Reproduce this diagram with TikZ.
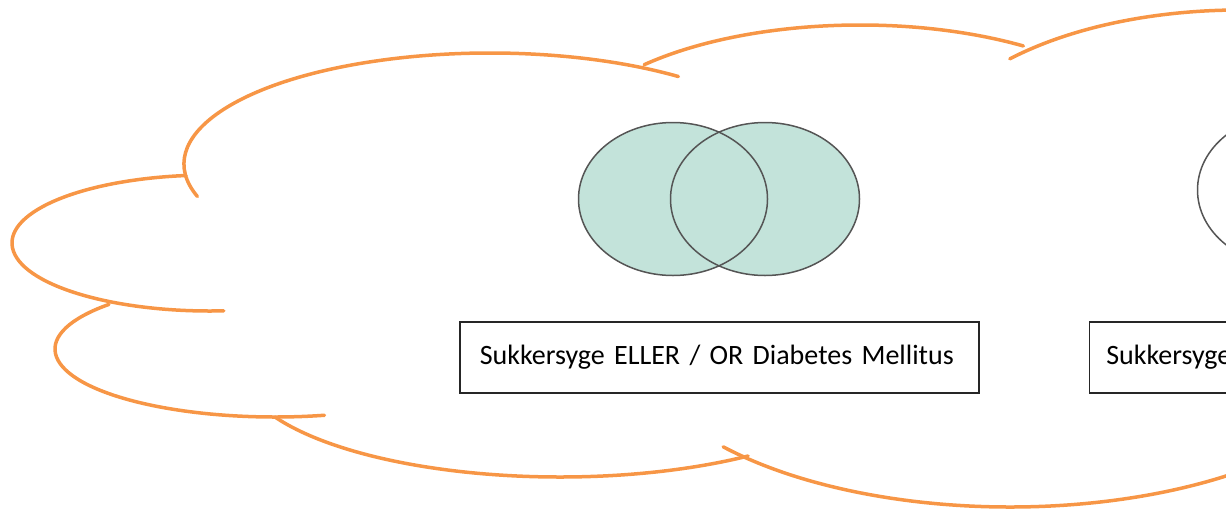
\documentclass[tikz,border=0pt]{standalone}
\usepackage{fontspec}
\setmainfont{Carlito}
\usetikzlibrary{positioning}
\definecolor{cloudorange}{HTML}{F79646}
\definecolor{venngreen}{HTML}{C3E3DA}
\definecolor{venngrey}{HTML}{555555}

\begin{document}
\begin{tikzpicture}[x=1pt,y=1pt]
\tikzset{cloudline/.style={draw=cloudorange, line width=3.5pt, line cap=round}}
\tikzset{venn/.style={draw=venngrey, line width=1.5pt}}
\tikzset{labelbox/.style={draw=black!85, line width=1.5pt, anchor=north west, inner sep=0pt,
  text width=519pt, align=left, text height=43pt, text depth=28pt, font=\fontsize{28}{34}\selectfont}}
\useasboundingbox (0,0) rectangle (1226,-509);
\clip (0,0) rectangle (1226,-509);
\draw [cloudline] ([shift={(97:198pt and 68pt)}]210,-243) arc (97:274:198pt and 68pt);
\draw [cloudline] ([shift={(197:306pt and 111pt)}]490,-164) arc (197:52:306pt and 111pt);
\draw [cloudline] ([shift={(136:300pt and 130pt)}]860,-155) arc (136:57:300pt and 130pt);
\draw [cloudline] ([shift={(136:320pt and 160pt)}]1240,-170) arc (136:60:320pt and 160pt);
\draw [cloudline] ([shift={(139:220pt and 68pt)}]275,-349) arc (139:283:220pt and 68pt);
\draw [cloudline] ([shift={(207:320pt and 110pt)}]560,-367) arc (207:306:320pt and 110pt);
\draw [cloudline] ([shift={(221:380pt and 175pt)}]1010,-332) arc (221:330:380pt and 175pt);
\fill [venngreen] (673,-199) ellipse (94.5pt and 76.5pt);
\fill [venngreen] (765,-199) ellipse (94.5pt and 76.5pt);
\draw [venn] (673,-199) ellipse (94.5pt and 76.5pt);
\draw [venn] (765,-199) ellipse (94.5pt and 76.5pt);
\draw [venn] (1292,-190) ellipse (94.5pt and 76.5pt);
\node (box1) [labelbox] at (459,-321) {\hspace*{20pt}\mbox{Sukkersyge ELLER / OR Diabetes Mellitus}};
\node (box2) [labelbox, right=109pt of box1] {\hspace*{17pt}\mbox{Sukkersyge}};
\end{tikzpicture}
\end{document}
